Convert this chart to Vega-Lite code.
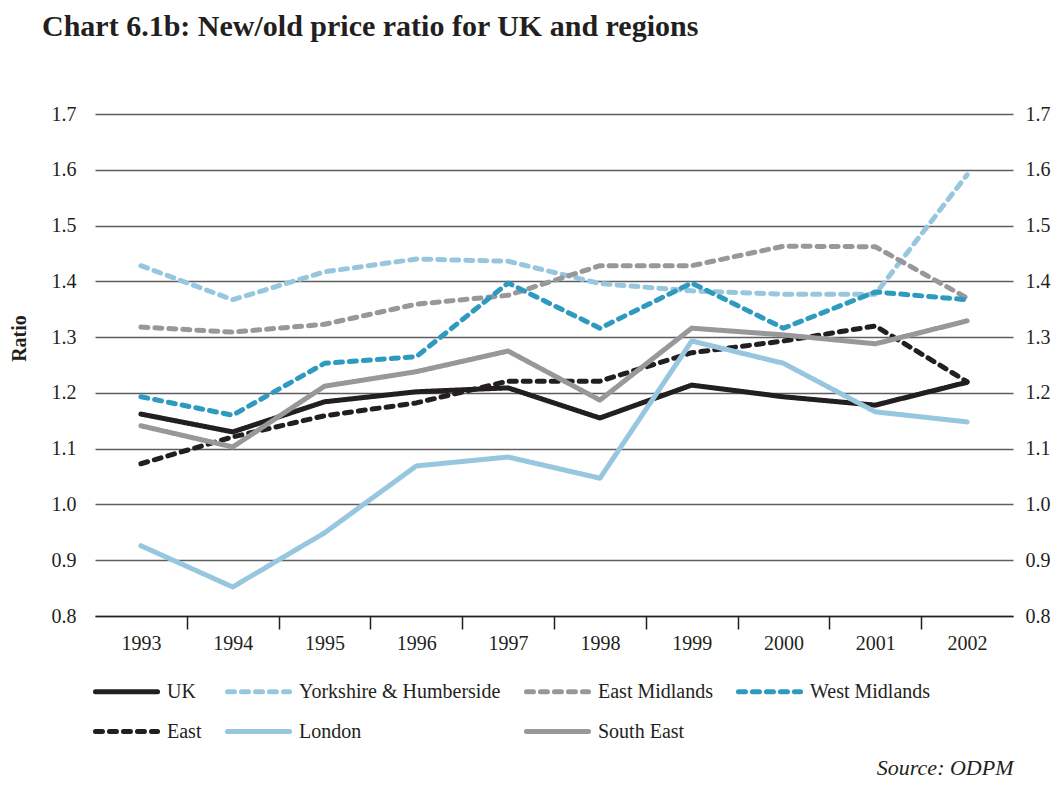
{
  "$schema": "https://vega.github.io/schema/vega-lite/v6.json",
  "width": 918,
  "height": 502,
  "autosize": {"type": "none"},
  "padding": {"left": 95, "top": 114, "right": 51, "bottom": 171},
  "background": "white",
  "title": {
    "text": "Chart 6.1b: New/old price ratio for UK and regions",
    "anchor": "start",
    "frame": "group",
    "dx": -53,
    "offset": 62,
    "font": "Liberation Serif",
    "fontSize": 30,
    "fontWeight": "bold",
    "color": "#231f20"
  },
  "config": {
    "view": {"stroke": null},
    "axis": {"labelFont": "Liberation Serif", "labelFontSize": 20, "labelColor": "#231f20", "titleFont": "Liberation Serif", "titleColor": "#231f20"},
    "legend": {
      "labelFont": "Liberation Serif", "labelFontSize": 20, "labelColor": "#231f20", "labelLimit": 0,
      "symbolType": "M-1.155,0H1.155", "symbolSize": 2888, "symbolStrokeWidth": 5,
      "labelOffset": 11, "columnPadding": 15, "rowPadding": 0
    }
  },
  "data": {
    "values": [
      {"year": "1993", "series": "UK", "value": 1.162},
      {"year": "1994", "series": "UK", "value": 1.130},
      {"year": "1995", "series": "UK", "value": 1.184},
      {"year": "1996", "series": "UK", "value": 1.202},
      {"year": "1997", "series": "UK", "value": 1.209},
      {"year": "1998", "series": "UK", "value": 1.155},
      {"year": "1999", "series": "UK", "value": 1.214},
      {"year": "2000", "series": "UK", "value": 1.193},
      {"year": "2001", "series": "UK", "value": 1.178},
      {"year": "2002", "series": "UK", "value": 1.219},
      {"year": "1993", "series": "Yorkshire & Humberside", "value": 1.428},
      {"year": "1994", "series": "Yorkshire & Humberside", "value": 1.367},
      {"year": "1995", "series": "Yorkshire & Humberside", "value": 1.417},
      {"year": "1996", "series": "Yorkshire & Humberside", "value": 1.440},
      {"year": "1997", "series": "Yorkshire & Humberside", "value": 1.436},
      {"year": "1998", "series": "Yorkshire & Humberside", "value": 1.396},
      {"year": "1999", "series": "Yorkshire & Humberside", "value": 1.383},
      {"year": "2000", "series": "Yorkshire & Humberside", "value": 1.377},
      {"year": "2001", "series": "Yorkshire & Humberside", "value": 1.377},
      {"year": "2002", "series": "Yorkshire & Humberside", "value": 1.591},
      {"year": "1993", "series": "East Midlands", "value": 1.318},
      {"year": "1994", "series": "East Midlands", "value": 1.309},
      {"year": "1995", "series": "East Midlands", "value": 1.323},
      {"year": "1996", "series": "East Midlands", "value": 1.359},
      {"year": "1997", "series": "East Midlands", "value": 1.375},
      {"year": "1998", "series": "East Midlands", "value": 1.428},
      {"year": "1999", "series": "East Midlands", "value": 1.428},
      {"year": "2000", "series": "East Midlands", "value": 1.463},
      {"year": "2001", "series": "East Midlands", "value": 1.462},
      {"year": "2002", "series": "East Midlands", "value": 1.370},
      {"year": "1993", "series": "West Midlands", "value": 1.193},
      {"year": "1994", "series": "West Midlands", "value": 1.160},
      {"year": "1995", "series": "West Midlands", "value": 1.253},
      {"year": "1996", "series": "West Midlands", "value": 1.265},
      {"year": "1997", "series": "West Midlands", "value": 1.397},
      {"year": "1998", "series": "West Midlands", "value": 1.316},
      {"year": "1999", "series": "West Midlands", "value": 1.397},
      {"year": "2000", "series": "West Midlands", "value": 1.316},
      {"year": "2001", "series": "West Midlands", "value": 1.381},
      {"year": "2002", "series": "West Midlands", "value": 1.367},
      {"year": "1993", "series": "East", "value": 1.073},
      {"year": "1994", "series": "East", "value": 1.121},
      {"year": "1995", "series": "East", "value": 1.159},
      {"year": "1996", "series": "East", "value": 1.182},
      {"year": "1997", "series": "East", "value": 1.221},
      {"year": "1998", "series": "East", "value": 1.221},
      {"year": "1999", "series": "East", "value": 1.272},
      {"year": "2000", "series": "East", "value": 1.293},
      {"year": "2001", "series": "East", "value": 1.320},
      {"year": "2002", "series": "East", "value": 1.220},
      {"year": "1993", "series": "London", "value": 0.926},
      {"year": "1994", "series": "London", "value": 0.852},
      {"year": "1995", "series": "London", "value": 0.949},
      {"year": "1996", "series": "London", "value": 1.069},
      {"year": "1997", "series": "London", "value": 1.085},
      {"year": "1998", "series": "London", "value": 1.047},
      {"year": "1999", "series": "London", "value": 1.293},
      {"year": "2000", "series": "London", "value": 1.253},
      {"year": "2001", "series": "London", "value": 1.166},
      {"year": "2002", "series": "London", "value": 1.148},
      {"year": "1993", "series": "South East", "value": 1.141},
      {"year": "1994", "series": "South East", "value": 1.103},
      {"year": "1995", "series": "South East", "value": 1.212},
      {"year": "1996", "series": "South East", "value": 1.238},
      {"year": "1997", "series": "South East", "value": 1.275},
      {"year": "1998", "series": "South East", "value": 1.187},
      {"year": "1999", "series": "South East", "value": 1.316},
      {"year": "2000", "series": "South East", "value": 1.304},
      {"year": "2001", "series": "South East", "value": 1.288},
      {"year": "2002", "series": "South East", "value": 1.329}
    ]
  },
  "layer": [
    {
      "mark": {"type": "line", "strokeWidth": 5, "strokeCap": "round", "strokeJoin": "round"},
      "encoding": {
        "x": {
          "field": "year", "type": "ordinal",
          "scale": {"type": "point", "padding": 0.5},
          "axis": {
            "orient": "bottom",
            "labelAngle": 0, "labelPadding": 17, "ticks": false,
            "domain": true, "domainColor": "#231f20", "domainWidth": 1.5,
            "title": "Source: ODPM",
            "titleFontStyle": "italic", "titleFontWeight": "normal", "titleFontSize": 22,
            "titleAnchor": "end", "titleAlign": "right", "titleBaseline": "alphabetic",
            "titleX": 918, "titleY": 158
          }
        },
        "y": {
          "field": "value", "type": "quantitative",
          "scale": {"domain": [0.8, 1.7], "nice": false, "zero": false},
          "axis": {
            "orient": "left",
            "values": [0.8, 0.9, 1.0, 1.1, 1.2, 1.3, 1.4, 1.5, 1.6, 1.7],
            "format": ".1f", "domain": false, "ticks": false, "labelPadding": 19,
            "grid": true, "gridColor": "#5e5e60", "gridWidth": 1.5,
            "title": "Ratio", "titleFontSize": 20, "titleFontWeight": "bold",
            "titleX": -66, "titleY": 224, "titleAlign": "center"
          }
        },
        "color": {
          "field": "series", "type": "nominal",
          "scale": {
            "domain": ["UK", "Yorkshire & Humberside", "East Midlands", "West Midlands", "East", "London", "South East"],
            "range": ["#231f20", "#97c7df", "#98989b", "#2e9ac0", "#231f20", "#97c7df", "#98989b"]
          },
          "legend": {
            "orient": "none", "legendX": 2, "legendY": 548,
            "direction": "horizontal", "columns": 4, "title": null, "rowPadding": 0,
            "encode": {
              "symbols": {"update": {"strokeCap": {"value": "round"}}},
              "labels": {"update": {"font": {"value": "Liberation Serif"}, "fontSize": {"value": 20}}}
            }
          }
        },
        "strokeDash": {
          "field": "series", "type": "nominal",
          "scale": {
            "domain": ["UK", "Yorkshire & Humberside", "East Midlands", "West Midlands", "East", "London", "South East"],
            "range": [[1, 0], [7, 7], [7, 7], [7, 7], [7, 7], [1, 0], [1, 0]]
          },
          "legend": {
            "orient": "none", "legendX": 2, "legendY": 548,
            "direction": "horizontal", "columns": 4, "title": null, "rowPadding": 0,
            "encode": {
              "symbols": {"update": {"strokeCap": {"value": "round"}}},
              "labels": {"update": {"font": {"value": "Liberation Serif"}, "fontSize": {"value": 20}}}
            }
          }
        }
      }
    },
    {
      "mark": {"type": "line", "opacity": 0},
      "encoding": {
        "x": {
          "field": "year", "type": "ordinal",
          "axis": {
            "orient": "bottom",
            "values": ["1994", "1995", "1996", "1997", "1998", "1999", "2000", "2001", "2002"],
            "tickOffset": -45.9, "labels": false, "domain": false,
            "ticks": true, "tickSize": 13, "tickColor": "#231f20", "tickWidth": 1.5,
            "title": null
          }
        },
        "y": {
          "field": "value", "type": "quantitative",
          "axis": {
            "orient": "right",
            "values": [0.8, 0.9, 1.0, 1.1, 1.2, 1.3, 1.4, 1.5, 1.6, 1.7],
            "format": ".1f", "domain": false, "ticks": false, "labelPadding": 12,
            "grid": false, "title": null
          }
        },
        "detail": {"field": "series", "type": "nominal"}
      }
    }
  ],
  "resolve": {"axis": {"x": "independent", "y": "independent"}}
}
